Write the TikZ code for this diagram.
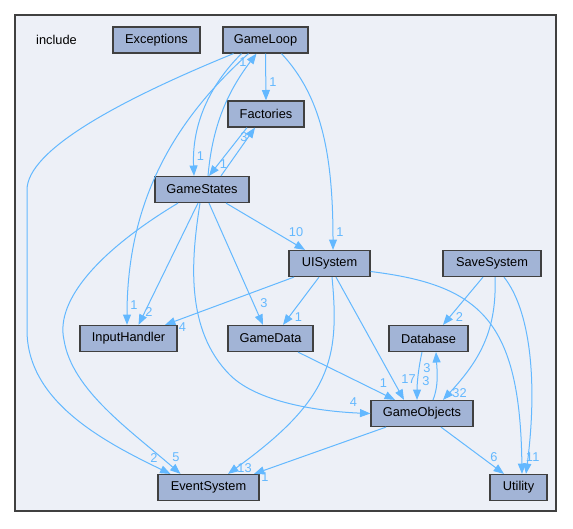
\documentclass[tikz,border=0pt]{standalone}
\usepackage{fontspec}
\setmainfont{Liberation Sans}
\usetikzlibrary{arrows.meta,calc}

\definecolor{edgeblue}{HTML}{63B8FF}
\definecolor{boxfill}{HTML}{A2B4D6}
\definecolor{boxline}{HTML}{404040}
\definecolor{framefill}{HTML}{EDF0F7}

\newcommand{\boxfont}{\fontsize{9.6}{11}\selectfont}

\tikzset{
  dirbox/.style={draw=boxline, fill=boxfill, line width=0.9pt,
    minimum height=19.5pt, inner sep=0pt, font=\boxfont, text=black},
  dep/.style={draw=edgeblue, line width=0.75pt,
    -{Triangle[length=7.8pt,width=6pt]}},
  lbl/.style={font=\boxfont, text=edgeblue, inner sep=0pt},
}

\begin{document}
\begin{tikzpicture}[x=0.75pt, y=-0.75pt]
\useasboundingbox (0,0) rectangle (573,528);

% directory frame
\path[draw=boxline, fill=framefill, line width=2.2pt] (15,15) rectangle (556,511);
\node[font=\boxfont, inner sep=0pt] (incl) at (56.5,40) {include};

% sub-directories
\node[dirbox, minimum width=65.25pt] (Exceptions)   at (156.5,40)  {Exceptions};
\node[dirbox, minimum width=63.75pt] (GameLoop)     at (265.5,40)  {GameLoop};
\node[dirbox, minimum width=57pt]    (Factories)    at (266,114)   {Factories};
\node[dirbox, minimum width=70.5pt]  (GameStates)   at (202,189.5) {GameStates};
\node[dirbox, minimum width=60.75pt] (UISystem)     at (329.5,263.5) {UISystem};
\node[dirbox, minimum width=73.5pt]  (SaveSystem)   at (492,263.5) {SaveSystem};
\node[dirbox, minimum width=72.75pt] (InputHandler) at (128.5,338.5) {InputHandler};
\node[dirbox, minimum width=63.75pt] (GameData)     at (270.5,338.5) {GameData};
\node[dirbox, minimum width=59.25pt] (Database)     at (428.5,338.5) {Database};
\node[dirbox, minimum width=76.5pt]  (GameObjects)  at (422,413.5) {GameObjects};
\node[dirbox, minimum width=75.75pt] (EventSystem)  at (208.5,487.5) {EventSystem};
\node[dirbox, minimum width=42.75pt] (Utility)      at (518.5,487.5) {Utility};

% dependencies of GameLoop
\draw[dep] (GameLoop.south) -- (Factories.north)
  node[lbl] (l1) at (273,82) {1};
\draw[dep] ($(GameLoop.south)+(-24,0)$) .. controls (205,90) and (192,130) .. ($(GameStates.north)+(-8,0)$)
  node[lbl] (l2) at (200.5,156.5) {1};
\draw[dep] ($(GameLoop.south)+(-17,0)$) .. controls (175,120) and (127,200) .. ($(InputHandler.north)+(-1.5,0)$)
  node[lbl] (l4) at (134,305) {1};
\draw[dep] ($(GameLoop.south)+(-32,0)$) .. controls (120,100) and (27,150) .. (27,190) -- (27,330)
  .. controls (27,400) and (100,440) .. ($(EventSystem.north)+(-38,0)$)
  node[lbl] (l5) at (154,458) {2};
\draw[dep] ($(GameLoop.south)+(16,0)$) .. controls (320,95) and (333,150) .. ($(UISystem.north)+(3.5,0)$)
  node[lbl] (l6) at (340,232) {1};

% dependencies of Factories
\draw[dep] ($(Factories.south)+(-19,0)$) -- ($(GameStates.north)+(7,0)$)
  node[lbl] (l8) at (223.5,164.5) {1};

% dependencies of GameStates
\draw[dep] ($(GameStates.north)+(6,0)$) .. controls (212,130) and (225,95) .. ($(GameLoop.south)+(-9,0)$)
  node[lbl] (l3) at (243,62) {1};
\draw[dep] ($(GameStates.north)+(19,0)$) -- ($(Factories.south)+(-11,0)$)
  node[lbl] (l7) at (244,137) {3};
\draw[dep] ($(GameStates.south)+(-24,0)$) .. controls (100,250) and (55,300) .. (64,340)
  .. controls (72,390) and (130,430) .. ($(EventSystem.north)+(-28,0)$)
  node[lbl] (l9) at (176,457) {5};
\draw[dep] ($(GameStates.south)+(-4,0)$) -- ($(InputHandler.north)+(10,0)$)
  node[lbl] (l10) at (149,312) {2};
\draw[dep] ($(GameStates.south)+(-2,0)$) .. controls (191,260) and (185,330) .. (230,375)
  .. controls (260,405) and (330,412) .. (GameObjects.west)
  node[lbl] (l11) at (353.5,402) {4};
\draw[dep] ($(GameStates.south)+(7,0)$) -- ($(GameData.north)+(-7.5,0)$)
  node[lbl] (l12) at (264,303.5) {3};
\draw[dep] ($(GameStates.south)+(24,0)$) -- ($(UISystem.north)+(-24.5,0)$)
  node[lbl] (l13) at (296,232) {10};

% dependencies of UISystem
\draw[dep] ($(UISystem.south)+(-35.5,0)$) -- ($(InputHandler.north)+(36.5,0)$)
  node[lbl] (l14) at (182.5,327) {4};
\draw[dep] ($(UISystem.south)+(-10.5,0)$) -- ($(GameData.north)+(12.5,0)$)
  node[lbl] (l15) at (298.5,317) {1};
\draw[dep] ($(UISystem.south)+(2.5,0)$) .. controls (340,360) and (330,400) .. ($(EventSystem.north)+(19.5,0)$)
  node[lbl] (l16) at (244.5,468) {13};
\draw[dep] ($(UISystem.south)+(6.5,0)$) -- ($(GameObjects.north)+(-18,0)$)
  node[lbl] (l17) at (408.5,379) {17};
\draw[dep] ($(UISystem.east)+(0,8)$) .. controls (480,285) and (520,320) .. ($(Utility.north)+(3.5,0)$)
  node[lbl] (l18) at (529.5,457) {1};

% dependencies of SaveSystem
\draw[dep] ($(SaveSystem.south)+(-9,0)$) -- ($(Database.north)+(14.5,0)$)
  node[lbl] (l19) at (459.5,317) {2};
\draw[dep] ($(SaveSystem.south)+(3,0)$) .. controls (497,330) and (480,360) .. ($(GameObjects.north)+(21,0)$)
  node[lbl] (l20) at (459.5,393) {32};
\draw[dep] ($(SaveSystem.south)+(12,0)$) .. controls (530,310) and (538,380) .. ($(Utility.north)+(7.5,0)$)
  node[lbl] (l21) at (536,457) {1};

% Database and GameObjects
\draw[dep] ($(Database.south)+(-6.5,0)$) .. controls (418,370) and (417,385) .. ($(GameObjects.north)+(-5,0)$)
  node[lbl] (l22) at (426,381) {3};
\draw[dep] ($(GameObjects.north)+(11,0)$) .. controls (439,385) and (437,370) .. ($(Database.south)+(7.5,0)$)
  node[lbl] (l23) at (427,368) {3};

% dependencies of GameData
\draw[dep] ($(GameData.south)+(27.5,0)$) -- ($(GameObjects.north)+(-27,0)$)
  node[lbl] (l24) at (383.5,383) {1};

% dependencies of GameObjects
\draw[dep] ($(GameObjects.south)+(-36,0)$) -- ($(EventSystem.north)+(45.5,0)$)
  node[lbl] (l25) at (265,477) {1};
\draw[dep] ($(GameObjects.south)+(19,0)$) -- ($(Utility.north)+(-14.5,0)$)
  node[lbl] (l26) at (494,457) {6};

\end{tikzpicture}
\end{document}
